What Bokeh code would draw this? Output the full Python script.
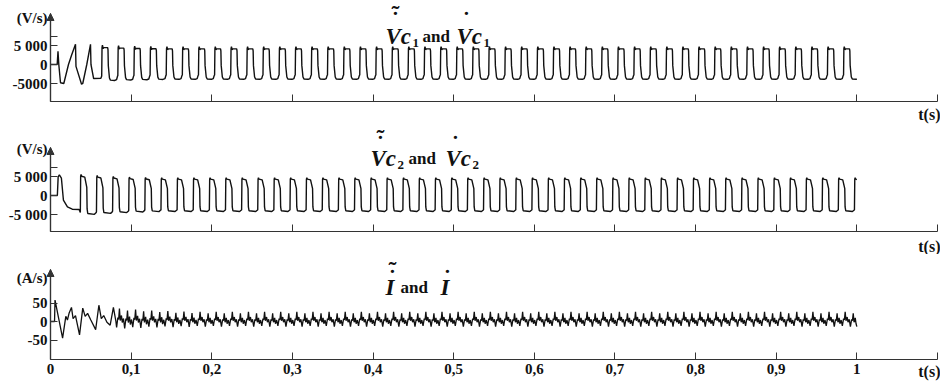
from bokeh.plotting import figure
from bokeh.layouts import column
from bokeh.models import Label, Arrow, NormalHead, FixedTicker
from bokeh.embed import file_html
from bokeh.resources import INLINE

# ---------------- data ----------------
PERIOD_S = 0.02
T_END = 1.0

X_TICKS = [0, 0.1, 0.2, 0.3, 0.4, 0.5, 0.6, 0.7, 0.8, 0.9, 1.0, 1.1]
X_TICK_LABELS = ["0", "0,1", "0,2", "0,3", "0,4", "0,5", "0,6", "0,7", "0,8", "0,9", "1", ""]

# d(Vc1)/dt  (V/s)
VC1_START_T = [0.0, 0.0083, 0.0093, 0.0103, 0.0124, 0.0165, 0.0223, 0.0262, 0.0310, 0.0316,
               0.0385, 0.0400, 0.0450, 0.0496, 0.0502, 0.0535, 0.0625]
VC1_START_V = [0, 0, 3500, 0, -4800, -5000, 0, 2500, 5300, -500,
               -5200, -5000, 0, 5300, 0, -3700, -3600]
VC1_FIRST_EDGE = 0.0635
VC1_CYCLE_MS = [0.0, 0.4, 0.9, 1.8, 2.6, 7.4, 7.8, 8.2, 9.6, 10.8, 16.0, 18.4, 19.7]
VC1_CYCLE_V = [-2800, 4200, 4700, 3900, 4100, 4100, 3600, -300, -3300, -3800, -3900, -3700, -2800]
VC1_GAIN = [1.08, 1.05, 1.03, 1.01]
VC1_END_V = -3900
VC1_TICKS = [-5000, 0, 5000, 7500]
VC1_TICK_LABELS = ["-5000", "0", "5 000", ""]

# d(Vc2)/dt  (V/s)
VC2_START_T = [0.0, 0.0085, 0.0095, 0.0110, 0.0135, 0.0160, 0.0210, 0.0270, 0.0355]
VC2_START_V = [0, 0, 4900, 5400, 4600, -1200, -3000, -3600, -3700]
VC2_FIRST_EDGE = 0.037
VC2_CYCLE_MS = [0.0, 0.4, 0.9, 1.6, 5.5, 8.0, 8.4, 9.2, 17.5, 19.7]
VC2_CYCLE_V = [-3800, 4300, 4700, 4300, 4100, 1800, -3000, -4000, -4200, -3800]
VC2_GAIN = [1.18, 1.12, 1.07, 1.03, 1.01]
VC2_END_V = 4200
VC2_TICKS = [-5000, 0, 5000, 7500]
VC2_TICK_LABELS = ["-5 000", "0", "5 000", ""]

# dI/dt  (A/s)
I_START_T = [0.0, 0.0050, 0.0056, 0.0150, 0.0190, 0.0210, 0.0230, 0.0260, 0.0280, 0.0310,
             0.0360, 0.0400, 0.0430, 0.0460, 0.0500, 0.0560, 0.0600, 0.0630, 0.0660, 0.0700,
             0.0740, 0.0780, 0.0810]
I_START_V = [0, 0, 58, -45, 14, 4, 22, 38, 8, 16,
             -36, 36, 14, 22, 4, -22, 44, 8, 16, -2,
             -10, 38, 2]
I_FIRST_EDGE = 0.082
I_CYCLE_MS = [0.0, 1.5, 2.5, 3.5, 4.5, 6.0, 7.0, 8.5, 10.0, 11.5, 12.5, 13.5, 14.5, 16.0, 17.0, 18.5]
I_CYCLE_V = [-12, 8, 4, 26, 2, 12, -2, 6, -14, 6, 2, 22, -2, 10, -6, 4]
I_GAIN = [1.35, 1.25, 1.15, 1.08, 1.03]
I_END_V = -14
I_TICKS = [-50, 0, 50]
I_TICK_LABELS = ["-50", "0", "50"]


def build(start_t, start_v, first_edge, cyc_ms, cyc_v, gains, end_v):
    t = list(start_t)
    v = list(start_v)
    k = 0
    while True:
        t0 = first_edge + k * PERIOD_S
        if t0 >= T_END:
            break
        g = gains[k] if k < len(gains) else 1.0
        for ms, val in zip(cyc_ms, cyc_v):
            tt = t0 + ms / 1000.0
            if tt > T_END:
                break
            t.append(tt)
            v.append(val * g)
        k += 1
    t.append(T_END)
    v.append(end_v)
    return t, v


# ---------------- layout helpers (picture pixels -> data) ----------------
FONT = "Liberation Serif"
INK = "#111111"
AXIS = "#333333"
FIG_W = 940
PAGE_LEFT = 0
ZERO_X_PX = 50.0          # x of t = 0
END_X_PX = 937.0          # x of t = 1.1
PXX = (END_X_PX - ZERO_X_PX) / 1.1
TILDE = "\u02dc"
DOT = "\u02d9"


def xd(px):
    return (px - ZERO_X_PX) / PXX


class Panel:
    def __init__(self, top_px, height, zero_px, px_per_unit, axis_top_px, axis_bottom_px,
                 yticks, ylabels, show_x_labels):
        self.top = top_px
        self.zero = zero_px
        self.ppu = px_per_unit
        x_range = (xd(PAGE_LEFT), xd(PAGE_LEFT + FIG_W))
        y_range = (self.yd(top_px + height), self.yd(top_px))
        p = figure(width=FIG_W, height=height, x_range=x_range, y_range=y_range,
                   output_backend="svg", toolbar_location=None,
                   min_border_left=0, min_border_right=0,
                   min_border_top=0, min_border_bottom=0)
        p.grid.visible = False
        p.outline_line_color = None
        p.background_fill_color = "white"
        p.border_fill_color = "white"

        y_lo = self.yd(axis_bottom_px)
        y_hi = self.yd(axis_top_px)

        xa = p.xaxis[0]
        xa.fixed_location = y_lo
        xa.bounds = (0, 1.1)
        xa.ticker = FixedTicker(ticks=X_TICKS)
        if show_x_labels:
            xa.major_label_overrides = {k: s for k, s in zip(X_TICKS, X_TICK_LABELS)}
        else:
            xa.major_label_overrides = {k: "" for k in X_TICKS}
        xa.major_tick_in = 7
        xa.major_tick_out = 0
        xa.minor_tick_line_color = None
        xa.axis_line_color = AXIS
        xa.major_tick_line_color = AXIS
        xa.axis_line_width = 1.2
        xa.major_label_standoff = 4
        xa.major_label_text_font = FONT
        xa.major_label_text_font_style = "bold"
        xa.major_label_text_font_size = "15px"
        xa.major_label_text_color = INK

        ya = p.yaxis[0]
        ya.fixed_location = 0
        ya.bounds = (y_lo, y_hi)
        ya.ticker = FixedTicker(ticks=yticks)
        ya.major_label_overrides = {k: s for k, s in zip(yticks, ylabels)}
        ya.major_tick_in = 7
        ya.major_tick_out = 0
        ya.minor_tick_line_color = None
        ya.axis_line_color = AXIS
        ya.major_tick_line_color = AXIS
        ya.axis_line_width = 1.2
        ya.major_label_standoff = 3
        ya.major_label_text_font = FONT
        ya.major_label_text_font_style = "bold"
        ya.major_label_text_font_size = "15px"
        ya.major_label_text_color = INK

        p.add_layout(Arrow(end=NormalHead(size=7, fill_color=AXIS, line_color=AXIS),
                           x_start=0, y_start=y_lo, x_end=0, y_end=y_hi,
                           line_color=AXIS, line_width=1.2))
        self.p = p

    def yd(self, py):
        return (self.zero - py) / self.ppu

    def text(self, s, px, py, size, style="bold", align="left", baseline="alphabetic"):
        self.p.add_layout(Label(x=xd(px), y=self.yd(py), text=s, text_font=FONT,
                                text_font_style=style, text_font_size=size,
                                text_color=INK, text_align=align, text_baseline=baseline))

    def accent(self, cx, dot_top_py, tilde_top_py=None):
        # accents set as their own texts; the texts' boxes start at the given top
        if tilde_top_py is not None:
            self.text(TILDE, cx, tilde_top_py, "24px", align="center", baseline="top")
        self.text(DOT, cx, dot_top_py, "22px", align="center", baseline="top")


# ---------------- panel 1 ----------------
P1 = Panel(0, 124, 64, 19 / 5000, 13, 101, VC1_TICKS, VC1_TICK_LABELS, False)
t1, v1 = build(VC1_START_T, VC1_START_V, VC1_FIRST_EDGE, VC1_CYCLE_MS, VC1_CYCLE_V, VC1_GAIN, VC1_END_V)
P1.p.line(t1, v1, line_color=INK, line_width=1.4)
P1.text("(V/s)", 47, 17, "15px", align="right", baseline="middle")
P1.text("t(s)", 940, 114, "16px", align="right", baseline="middle")
P1.text("Vc", 385, 36, "23px", style="bold italic")
P1.accent(395, 6, 0)
P1.text("1", 412, 42, "13px")
P1.text("and", 422, 36, "17px")
P1.text("Vc", 456, 36, "23px", style="bold italic")
P1.accent(466, 6)
P1.text("1", 483, 42, "13px")

# ---------------- panel 2 ----------------
P2 = Panel(124, 130, 195, 19 / 5000, 147, 231, VC2_TICKS, VC2_TICK_LABELS, False)
t2, v2 = build(VC2_START_T, VC2_START_V, VC2_FIRST_EDGE, VC2_CYCLE_MS, VC2_CYCLE_V, VC2_GAIN, VC2_END_V)
P2.p.line(t2, v2, line_color=INK, line_width=1.4)
P2.text("(V/s)", 47, 148, "15px", align="right", baseline="middle")
P2.text("t(s)", 940, 246, "16px", align="right", baseline="middle")
P2.text("Vc", 370, 158, "23px", style="bold italic")
P2.accent(380, 130, 124)
P2.text("2", 397, 164, "13px")
P2.text("and", 408, 158, "17px")
P2.text("Vc", 445, 158, "23px", style="bold italic")
P2.accent(455, 130)
P2.text("2", 472, 164, "13px")

# ---------------- panel 3 ----------------
P3 = Panel(254, 130, 321, 18.5 / 50, 269, 359, I_TICKS, I_TICK_LABELS, True)
t3, v3 = build(I_START_T, I_START_V, I_FIRST_EDGE, I_CYCLE_MS, I_CYCLE_V, I_GAIN, I_END_V)
P3.p.line(t3, v3, line_color=INK, line_width=1.3)
P3.text("(A/s)", 47, 277, "15px", align="right", baseline="middle")
P3.text("t(s)", 940, 371, "16px", align="right", baseline="middle")
P3.text("I", 385, 287, "23px", style="bold italic")
P3.accent(392, 264, 256)
P3.text("and", 400, 287, "17px")
P3.text("I", 440, 287, "23px", style="bold italic")
P3.accent(447, 264)

layout = column(P1.p, P2.p, P3.p)
open("out.html", "w").write(file_html(layout, INLINE))
